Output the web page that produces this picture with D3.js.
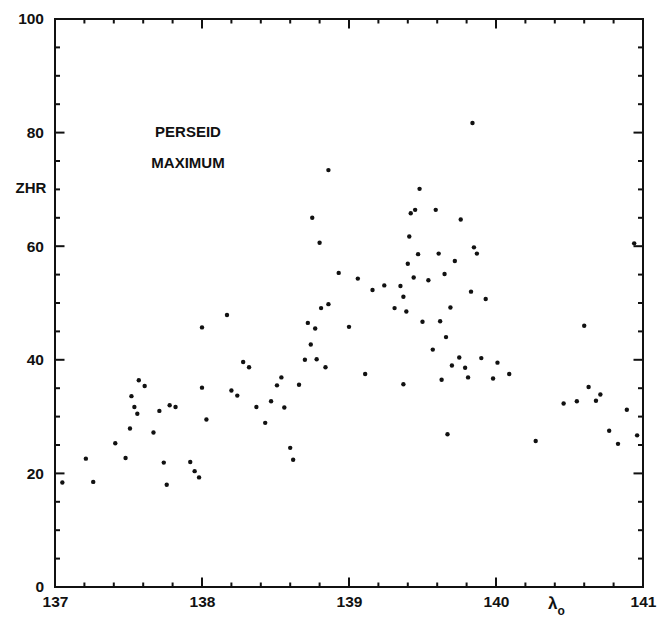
<!DOCTYPE html>
<html>
<head>
<meta charset="utf-8">
<script src="https://cdn.jsdelivr.net/npm/d3@7/dist/d3.min.js"></script>
<style>
  html, body { margin: 0; padding: 0; background: #fff; }
  svg { display: block; }
  text { font-family: "Liberation Sans", Arial, sans-serif; fill: #111; }
  .axis path { display: none; }
  .axis text { font-size: 15.5px; font-weight: bold; fill: #111; }
  .frame { fill: none; stroke: #111; stroke-width: 2; }
  .dot { fill: #111; }
</style>
</head>
<body>
<svg id="canvas"></svg>
<script>
"use strict"

// solar longitude (deg) of each observation
const solarLongitude = [
  137.05, 137.21, 137.26, 137.41, 137.48, 137.51, 137.52, 137.54, 137.56, 137.57,
  137.61, 137.67, 137.71, 137.74, 137.76, 137.78, 137.82, 137.92, 137.95, 137.98,
  138.00, 138.00, 138.03, 138.17, 138.20, 138.24, 138.28, 138.32, 138.37, 138.43,
  138.47, 138.51, 138.54, 138.56, 138.60, 138.62, 138.66, 138.70, 138.72, 138.74,
  138.75, 138.77, 138.78, 138.80, 138.81, 138.84, 138.86, 138.86, 138.93, 139.00,
  139.06, 139.11, 139.16, 139.24, 139.31, 139.35, 139.37, 139.37, 139.39, 139.40,
  139.41, 139.42, 139.44, 139.45, 139.47, 139.48, 139.50, 139.54, 139.57, 139.59,
  139.61, 139.62, 139.63, 139.65, 139.66, 139.67, 139.69, 139.70, 139.72, 139.75,
  139.76, 139.79, 139.81, 139.83, 139.84, 139.85, 139.87, 139.90, 139.93, 139.98,
  140.01, 140.09, 140.27, 140.46, 140.55, 140.60, 140.63, 140.68, 140.71, 140.77,
  140.83, 140.89, 140.94, 140.96
]

// zenithal hourly rate
const zhr = [
  18.4, 22.6, 18.5, 25.3, 22.7, 27.9, 33.6, 31.7, 30.5, 36.4,
  35.4, 27.2, 31.0, 21.9, 18.0, 32.0, 31.7, 22.0, 20.4, 19.3,
  45.7, 35.1, 29.5, 47.9, 34.6, 33.7, 39.6, 38.7, 31.7, 28.9,
  32.7, 35.5, 36.9, 31.6, 24.5, 22.4, 35.6, 40.0, 46.5, 42.7,
  65.0, 45.5, 40.1, 60.6, 49.1, 38.7, 49.8, 73.4, 55.3, 45.8,
  54.3, 37.5, 52.3, 53.1, 49.1, 53.0, 51.1, 35.7, 48.5, 56.9,
  61.7, 65.8, 54.5, 66.4, 58.6, 70.1, 46.7, 54.0, 41.8, 66.4,
  58.7, 46.8, 36.5, 55.1, 44.0, 26.9, 49.2, 39.0, 57.4, 40.4,
  64.7, 38.6, 36.9, 52.0, 81.7, 59.8, 58.7, 40.3, 50.7, 36.7,
  39.5, 37.5, 25.7, 32.3, 32.7, 46.0, 35.2, 32.8, 33.9, 27.5,
  25.2, 31.2, 60.5, 26.7
]

const xTicks = [137, 138, 139, 140, 141]
const yTicks = [0, 20, 40, 60, 80, 100]
const notes = ["PERSEID", "MAXIMUM"]

function draw() {
  const $ = {
    width: 657,
    height: 617,
    left: 55,
    right: 643,
    top: 19,
    bottom: 587,
  }

  const svg = d3.select("#canvas")
    .attr("width", $.width)
    .attr("height", $.height)

  const x = d3.scaleLinear().domain([137, 141]).range([$.left, $.right])
  const y = d3.scaleLinear().domain([0, 100]).range([$.bottom, $.top])

  const minorX = d3.range(137, 141.001, 0.2).map(v => +v.toFixed(1))
  const minorY = d3.range(0, 100.001, 5)

  // tick marks on all four sides, pointing inward
  const ticks = svg.append("g")
    .attr("stroke", "#111")
    .attr("stroke-width", 2)

  const xMarks = minorX.map(v => ({ v: v, len: xTicks.includes(v) ? 9.5 : 4.5 }))
  const yMarks = minorY.map(v => ({ v: v, len: yTicks.includes(v) ? 9.5 : 5 }))

  ticks.selectAll("line.xb")
    .data(xMarks)
    .enter().append("line")
      .attr("class", "xb")
      .attr("x1", d => x(d.v)).attr("x2", d => x(d.v))
      .attr("y1", $.bottom).attr("y2", d => $.bottom - d.len)
  ticks.selectAll("line.xt")
    .data(xMarks)
    .enter().append("line")
      .attr("class", "xt")
      .attr("x1", d => x(d.v)).attr("x2", d => x(d.v))
      .attr("y1", $.top).attr("y2", d => $.top + d.len)
  ticks.selectAll("line.yl")
    .data(yMarks)
    .enter().append("line")
      .attr("class", "yl")
      .attr("y1", d => y(d.v)).attr("y2", d => y(d.v))
      .attr("x1", $.left).attr("x2", d => $.left + d.len)
  ticks.selectAll("line.yr")
    .data(yMarks)
    .enter().append("line")
      .attr("class", "yr")
      .attr("y1", d => y(d.v)).attr("y2", d => y(d.v))
      .attr("x1", $.right).attr("x2", d => $.right - d.len)

  // tick labels
  svg.append("g").attr("class", "axis")
    .attr("transform", `translate(0,${$.bottom})`)
    .call(d3.axisBottom(x).tickValues(xTicks).tickSize(0).tickPadding(9).tickFormat(d3.format("d")))
  svg.append("g").attr("class", "axis")
    .attr("transform", `translate(${$.left},0)`)
    .call(d3.axisLeft(y).tickValues(yTicks).tickSize(0).tickPadding(11).tickFormat(d3.format("d")))

  svg.append("rect")
    .attr("class", "frame")
    .attr("x", $.left)
    .attr("y", $.top)
    .attr("width", $.right - $.left)
    .attr("height", $.bottom - $.top)

  // observations
  svg.append("g")
    .selectAll("circle")
    .data(d3.zip(solarLongitude, zhr))
    .enter().append("circle")
      .attr("class", "dot")
      .attr("cx", d => x(d[0]))
      .attr("cy", d => y(d[1]))
      .attr("r", 2.2)

  // labels
  svg.append("text")
    .attr("x", 31)
    .attr("y", 193)
    .attr("text-anchor", "middle")
    .style("font-size", "15px")
    .style("font-weight", "bold")
    .text("ZHR")

  svg.append("g")
    .selectAll("text")
    .data(notes)
    .enter().append("text")
      .attr("x", 188)
      .attr("y", (d, i) => 137 + i * 31)
      .attr("text-anchor", "middle")
      .style("font-size", "15px")
      .style("font-weight", "bold")
      .text(d => d)

  const lam = svg.append("text")
    .attr("x", 548)
    .attr("y", 609)
    .style("font-size", "17px")
    .style("font-weight", "bold")
  lam.append("tspan").text("λ")
  lam.append("tspan")
    .attr("dy", 6)
    .style("font-size", "12px")
    .text("o")
}

draw()
</script>
</body>
</html>
